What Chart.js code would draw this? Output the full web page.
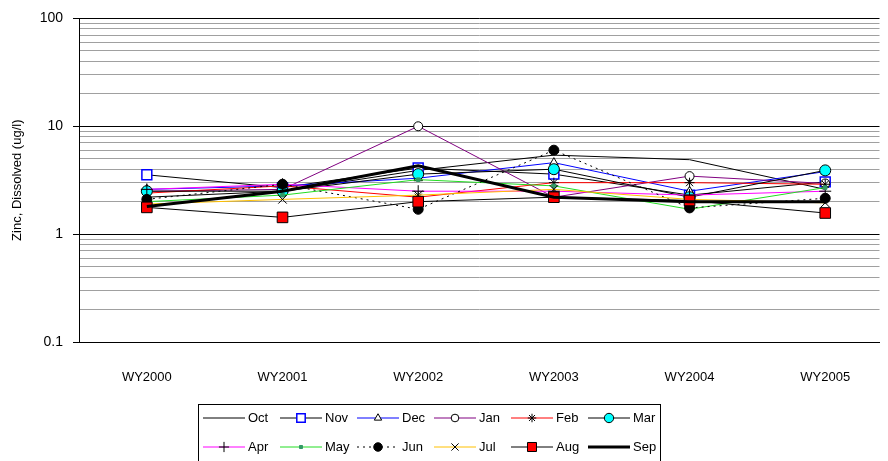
<!DOCTYPE html>
<html>
<head>
<meta charset="utf-8">
<script src="https://cdn.jsdelivr.net/npm/chart.js@4.4.0/dist/chart.umd.min.js"></script>
<style>
  html, body { margin: 0; padding: 0; background: #fff; }
  canvas { display: block; }
</style>
</head>
<body>
<canvas id="chart" width="888" height="461"></canvas>
<script>
const years = ['WY2000', 'WY2001', 'WY2002', 'WY2003', 'WY2004', 'WY2005'];
const months = ['Oct', 'Nov', 'Dec', 'Jan', 'Feb', 'Mar', 'Apr', 'May', 'Jun', 'Jul', 'Aug', 'Sep'];

const oct = [2.2, 2.5, 3.9, 5.4, 4.9, 2.6];
const nov = [3.55, 2.7, 4.1, 3.6, 2.3, 3.05];
const dec = [2.6, 2.8, 3.3, 4.6, 2.5, 3.8];
const jan = [2.5, 2.6, 10.0, 2.2, 3.45, 2.95];
const feb = [2.4, 2.8, 2.2, 3.0, 3.0, 2.9];
const mar = [2.5, 2.5, 3.6, 4.0, 2.2, 3.9];
const apr = [2.6, 2.9, 2.5, 2.5, 2.3, 2.5];
const may = [2.0, 2.3, 3.2, 2.8, 1.7, 2.7];
const jun = [2.1, 2.9, 1.7, 6.0, 1.75, 2.15];
const jul = [1.9, 2.1, 2.3, 2.6, 2.1, 1.95];
const aug = [1.77, 1.43, 2.0, 2.2, 2.05, 1.57];
const sep = [1.8, 2.5, 4.3, 2.2, 2.0, 2.0];

const yTicks = [0.1, 1, 10, 100];

const styles = [
  { data: oct, color: '#000000', width: 1, point: false },
  { data: nov, color: '#000000', width: 1, point: 'rect', r: 7, fill: '#ffffff', stroke: '#0000ff', bw: 1.5 },
  { data: dec, color: '#0000ff', width: 1, point: 'triangle', r: 5, fill: '#ffffff', stroke: '#000000', bw: 1 },
  { data: jan, color: '#800080', width: 1, point: 'circle', r: 4.5, fill: '#ffffff', stroke: '#000000', bw: 1 },
  { data: feb, color: '#ff0000', width: 1, point: 'star', r: 5, fill: '#000000', stroke: '#000000', bw: 1 },
  { data: mar, color: '#000000', width: 1, point: 'circle', r: 5.5, fill: '#00ffff', stroke: '#000000', bw: 1 },
  { data: apr, color: '#ff00ff', width: 1, point: 'cross', r: 6, fill: '#000000', stroke: '#000000', bw: 1 },
  { data: may, color: '#22dd22', width: 1, point: 'rect', r: 2.5, fill: '#339966', stroke: '#339966', bw: 1 },
  { data: jun, color: '#000000', width: 1, dash: [2, 4], point: 'circle', r: 5, fill: '#000000', stroke: '#000000', bw: 1 },
  { data: jul, color: '#ffc000', width: 1, point: 'crossRot', r: 6, fill: '#000000', stroke: '#000000', bw: 1 },
  { data: aug, color: '#000000', width: 1, point: 'rect', r: 7.5, fill: '#ff0000', stroke: '#000000', bw: 1 },
  { data: sep, color: '#000000', width: 3, point: false }
];

const datasets = styles.map((s, i) => ({
  label: months[i],
  data: s.data.map((v, j) => ({ x: j, y: v })),
  borderColor: s.color,
  borderWidth: s.width,
  borderDash: s.dash || [],
  pointStyle: s.point,
  pointRadius: s.point ? s.r : 0,
  pointBackgroundColor: s.fill,
  pointBorderColor: s.stroke,
  pointBorderWidth: s.bw,
  tension: 0,
  fill: false,
  order: 11 - i
}));

// legend drawn by hand so each entry shows line + marker like the original
const legendBox = {
  id: 'legendBox',
  afterDraw(chart) {
    const ctx = chart.ctx;
    ctx.save();
    ctx.fillStyle = '#fff';
    ctx.strokeStyle = '#000';
    ctx.lineWidth = 1;
    ctx.fillRect(198.5, 404.5, 462, 70);
    ctx.strokeRect(198.5, 404.5, 462, 70);
    ctx.font = '13px "Liberation Sans", Arial, sans-serif';
    ctx.textBaseline = 'middle';
    styles.forEach((s, i) => {
      const x0 = 203 + (i % 6) * 77;
      const y = 418 + Math.floor(i / 6) * 29;
      ctx.strokeStyle = s.color;
      ctx.lineWidth = s.width;
      ctx.setLineDash(s.dash || []);
      ctx.beginPath();
      ctx.moveTo(x0, y);
      ctx.lineTo(x0 + 42, y);
      ctx.stroke();
      ctx.setLineDash([]);
      if (s.point) {
        ctx.fillStyle = s.fill;
        ctx.strokeStyle = s.stroke;
        ctx.lineWidth = s.bw;
        Chart.helpers.drawPoint(ctx, { pointStyle: s.point, rotation: 0, radius: s.r * 0.85, borderWidth: s.bw }, x0 + 21, y);
      }
      ctx.fillStyle = '#000';
      ctx.fillText(months[i], x0 + 45, y);
    });
    ctx.restore();
  }
};

new Chart(document.getElementById('chart'), {
  type: 'line',
  data: { datasets },
  plugins: [legendBox],
  options: {
    responsive: false,
    animation: false,
    devicePixelRatio: 1,
    layout: { padding: { top: 15, right: 8, left: 0, bottom: 0 } },
    plugins: { legend: { display: false }, tooltip: { enabled: false } },
    scales: {
      x: {
        type: 'linear',
        min: -0.5,
        max: 5.4,
        afterBuildTicks: s => { s.ticks = years.map((_, i) => ({ value: i })); },
        afterFit: s => { s.height = 119; },
        grid: { display: false },
        border: { display: true, color: '#000', width: 1 },
        ticks: {
          padding: 20,
          color: '#000',
          font: { family: '"Liberation Sans", Arial, sans-serif', size: 13 },
          callback: v => years[v]
        }
      },
      y: {
        type: 'logarithmic',
        min: 0.1,
        max: 100,
        afterBuildTicks: s => {
          const t = [];
          for (let e = -1; e < 2; e++) {
            for (let k = 1; k < 10; k++) t.push({ value: +(k * Math.pow(10, e)).toPrecision(2) });
          }
          t.push({ value: 100 });
          s.ticks = t;
        },
        afterFit: s => { s.width = 79; },
        border: { display: true, color: '#000', width: 1 },
        grid: {
          color: c => yTicks.includes(c.tick.value) ? '#000' : '#a0a0a0',
          tickColor: c => yTicks.includes(c.tick.value) ? '#000' : 'rgba(0,0,0,0)',
          tickLength: 6,
          lineWidth: 1
        },
        ticks: {
          padding: 10,
          color: '#000',
          autoSkip: false,
          font: { family: '"Liberation Sans", Arial, sans-serif', size: 14 },
          callback: v => yTicks.includes(v) ? String(v) : ''
        },
        title: {
          display: true,
          text: 'Zinc, Dissolved (ug/l)',
          color: '#000',
          padding: { top: 10, bottom: 0 },
          font: { family: '"Liberation Sans", Arial, sans-serif', size: 13 }
        }
      }
    }
  }
});
</script>
</body>
</html>
